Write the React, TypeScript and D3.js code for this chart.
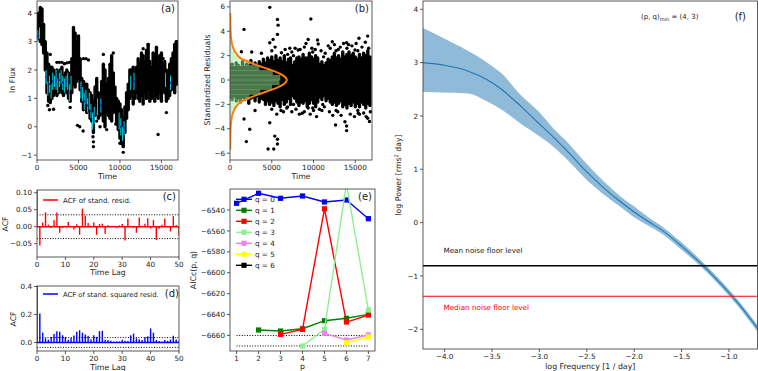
import React from "react";
import * as d3 from "d3";

const FONT = "DejaVu Sans, Verdana, sans-serif";
const AX = "#333";

// ---------------- Panel (a): light curve ----------------
const lcBand: [number, number, number][] = [
  [0, 3.2, 3.9], [200, 3.1, 4.0], [400, 3.0, 4.2], [600, 2.9, 4.15], [800, 2.6, 3.6],
  [1000, 2.0, 3.0], [1200, 1.2, 2.6], [1400, 0.9, 2.2], [1600, 0.85, 2.1], [1800, 1.0, 2.1],
  [2000, 1.1, 2.0], [2200, 1.2, 1.9], [2400, 1.1, 2.0], [2600, 1.2, 1.9], [2800, 1.3, 2.0],
  [3000, 1.2, 2.1], [3200, 1.1, 1.8], [3400, 1.3, 1.9], [3600, 1.2, 2.0], [3800, 1.0, 1.9],
  [4000, 0.9, 1.8], [4200, 1.2, 2.4], [4400, 1.5, 3.5], [4600, 1.4, 3.3], [4800, 1.6, 3.0],
  [5000, 1.7, 3.2], [5200, 1.3, 2.4], [5400, 0.9, 1.7], [5600, 0.6, 1.6], [5800, 0.8, 1.5],
  [6000, 0.5, 1.5], [6200, 0.6, 1.3], [6400, 0.3, 1.2], [6600, 0.2, 1.1], [6800, -0.2, 0.9],
  [7000, 0.4, 1.4], [7200, 0.6, 1.7], [7400, 0.3, 1.2], [7600, 0.4, 1.0], [7800, 0.5, 1.6],
  [8000, 0.2, 2.2], [8200, 0.0, 2.0], [8400, 0.5, 1.5], [8600, 0.4, 1.7], [8800, 0.3, 2.2],
  [9000, 0.2, 2.5], [9200, 0.5, 1.9], [9400, 0.6, 1.4], [9600, 0.1, 1.0], [9800, -0.1, 0.9],
  [10000, -0.4, 0.8], [10200, -0.6, 0.6], [10400, -0.7, 0.3], [10600, -0.2, 0.7], [10800, 0.3, 1.2],
  [11000, 0.6, 1.5], [11200, 1.0, 2.0], [11400, 1.1, 1.9], [11600, 0.8, 2.1], [11800, 1.0, 1.8],
  [12000, 1.2, 2.1], [12200, 1.0, 2.4], [12400, 0.9, 2.2], [12600, 1.1, 2.6], [12800, 0.8, 2.5],
  [13000, 1.2, 2.3], [13200, 1.0, 2.7], [13400, 1.3, 2.9], [13600, 0.9, 2.3], [13800, 1.0, 2.1],
  [14000, 1.3, 2.6], [14200, 0.9, 2.5], [14400, 1.1, 2.8], [14600, 1.0, 2.2], [14800, 1.2, 2.5],
  [15000, 0.9, 2.6], [15200, 1.4, 2.1], [15400, 1.2, 2.3], [15600, 0.9, 2.0], [15800, 1.0, 1.9],
  [16000, 1.1, 2.2], [16200, 1.3, 2.4], [16400, 1.4, 2.6], [16600, 1.2, 2.9], [16800, 1.5, 3.0],
];
const lcOutliers: [number, number][] = [
  [1600, 2.55], [2000, 0.62], [1300, 0.75], [2400, 2.27], [2700, 2.27], [3000, 2.27], [3300, 2.22],
  [3600, 2.25], [3900, 2.27], [4000, 0.68], [4880, 0.05], [5150, 0.0], [5600, 2.4], [5900, 2.4],
  [6200, 2.35], [6800, -0.53], [6800, -0.7], [6750, -0.35], [7600, 0.0], [8400, -0.1],
  [10400, -0.9], [10000, -0.58], [14600, -0.27], [15600, 0.5], [8000, 2.55], [9200, 2.6],
  [11400, 2.0], [12800, 2.75], [13400, 2.9], [14300, 2.55], [15200, 2.4], [16800, 3.0],
  [5560, -0.15], [7200, 0.2], [1500, 0.6], [9500, 0.1],
];
// model (cyan error bars) – visible mostly where the data run low
const lcModel: [number, number, number][] = [
  [100, 3.0, 3.4], [300, 3.1, 3.5], [1100, 1.5, 2.0], [1300, 1.1, 1.6],
  [1500, 1.2, 1.8], [1700, 1.0, 1.5], [1900, 1.3, 1.9], [2100, 1.4, 1.8], [2300, 1.3, 2.0],
  [2500, 1.2, 1.7], [2700, 1.4, 1.9], [2900, 1.5, 2.0], [3100, 1.3, 1.8], [3300, 1.2, 1.7],
  [3500, 1.4, 1.8], [3700, 1.3, 1.9], [3900, 0.9, 1.5], [4100, 1.3, 1.8], [5300, 1.0, 1.6],
  [5500, 0.9, 1.4], [5700, 0.6, 1.2], [5900, 0.8, 1.3], [6100, 0.5, 1.0], [6300, 0.6, 1.2],
  [6500, 0.3, 0.8], [6700, -0.1, 0.5], [6900, 0.1, 0.7], [7300, 0.4, 1.0], [7700, 0.5, 1.0],
  [9900, -0.1, 0.5], [10100, -0.3, 0.3], [10300, -0.5, 0.0], [10500, -0.3, 0.2],
  [11300, 1.3, 1.8], [11700, 1.3, 1.9], [15500, 1.4, 1.9], [16100, 1.3, 1.8],
];
const timeTicks = [0, 5000, 10000, 15000];
const fluxTicks = [-1, 0, 1, 2, 3, 4];

// ---------------- Panel (b): residuals ----------------
const resBand: [number, number, number][] = [
  [0, -1.4, 1.1], [250, -1.6, 1.3], [500, -1.3, 1.0], [750, -1.7, 1.4], [1000, -1.5, 1.2],
  [1250, -1.8, 1.0], [1500, -1.4, 1.5], [1750, -1.6, 1.1], [2000, -1.3, 1.3], [2250, -1.9, 1.2],
  [2500, -1.5, 1.6], [2750, -1.4, 1.1], [3000, -1.7, 1.4], [3250, -1.3, 1.2], [3500, -1.8, 1.5],
  [3750, -1.5, 1.3], [4000, -1.6, 1.7], [4250, -2.0, 1.4], [4500, -1.7, 1.8], [4750, -2.0, 1.6],
  [5000, -1.8, 1.9], [5250, -2.1, 1.5], [5500, -1.7, 2.0], [5750, -1.9, 1.6], [6000, -2.2, 1.8],
  [6250, -1.6, 1.5], [6500, -2.0, 2.0], [6750, -1.8, 1.4], [7000, -1.5, 1.7], [7250, -2.0, 1.8],
  [7500, -1.3, 1.2], [7750, -1.5, 1.5], [8000, -1.8, 1.8], [8250, -2.1, 1.9], [8500, -1.8, 1.7],
  [8750, -1.9, 2.1], [9000, -1.7, 1.8], [9250, -2.2, 1.8], [9500, -1.9, 2.2], [9750, -1.6, 1.9],
  [10000, -1.9, 1.7], [10250, -2.2, 2.0], [10500, -1.8, 1.8], [10750, -1.4, 1.3], [11000, -1.6, 1.5],
  [11250, -1.3, 1.2], [11500, -1.7, 1.4], [11750, -1.5, 1.7], [12000, -1.8, 1.6], [12250, -2.0, 1.9],
  [12500, -1.8, 2.2], [12750, -2.1, 1.8], [13000, -1.9, 2.0], [13250, -1.7, 1.7], [13500, -2.2, 2.3],
  [13750, -2.0, 1.9], [14000, -2.3, 2.1], [14250, -1.9, 2.3], [14500, -2.1, 2.0], [14750, -1.8, 2.2],
  [15000, -2.2, 1.9], [15250, -1.9, 1.7], [15500, -2.2, 2.1], [15750, -1.8, 1.8], [16000, -2.0, 2.2],
  [16250, -2.3, 2.0], [16500, -1.9, 2.4], [16750, -2.1, 1.9],
];
const resOutliers: [number, number][] = [
  [4760, 5.96], [5680, 4.97], [5760, 4.5], [5680, 3.74], [5160, 3.33], [4760, 3.06], [1680, 4.15],
  [9680, 5.0], [9360, 3.33], [10480, 3.28], [12240, 3.14], [13960, 3.06], [15440, 3.42], [16480, 3.6],
  [1360, 2.32], [3760, 2.2], [1680, -3.2], [2360, -4.04], [1960, -5.05], [4760, -3.5], [5360, -4.6],
  [5680, -4.86], [4560, -5.66], [5240, -5.66], [5680, -5.25], [12640, -3.69], [13760, -3.42],
  [13960, -3.77], [13960, -4.15], [16480, -3.14], [10360, -3.0], [8640, -2.73], [9360, -2.3],
  [15360, -2.73], [7160, 2.6], [8160, 2.46], [10560, 2.95], [11760, 2.8], [12960, 2.5], [14960, 2.46],
  [6160, 2.24], [16700, -3.4], [6400, -2.6], [11000, -2.5], [14200, 2.9], [3000, -2.5], [2600, 2.3],
  [5000, 2.4], [5400, 2.7], [6600, 2.5], [7400, 2.3], [7800, 2.6], [8400, 2.5], [8900, 2.7], [9100, 3.0],
  [9800, 2.6], [10200, 2.5], [10900, 2.4], [11400, 2.2], [12000, 2.6], [12500, 2.9], [13200, 2.7],
  [13600, 3.0], [14000, 2.6], [14600, 2.8], [15100, 3.0], [15800, 2.7], [16200, 3.1], [16600, 2.6],
  [5000, -2.4], [5600, -2.8], [6100, -2.5], [6800, -2.3], [7400, -2.6], [7900, -2.4], [8300, -2.8],
  [8900, -2.6], [9600, -2.8], [10000, -2.5], [10700, -2.4], [11300, -2.2], [11900, -2.6], [12300, -2.9],
  [12900, -2.6], [13300, -2.9], [14400, -2.8], [14900, -3.0], [15500, -2.8], [16000, -2.7], [16300, -3.0],
  [16800, -2.6], [7600, 2.0], [7600, -2.0], [11200, 1.9], [11100, -2.0], [6900, 2.1], [6900, -2.2],
  [9900, 2.3], [9900, -2.3], [12700, 2.4], [12700, -2.5], [15300, 2.4], [15300, -2.5],
];
const histBins: [number, number, number][] = [
  [-3.2, -2.8, 150], [-2.8, -2.4, 300], [-2.4, -2.0, 700], [-2.0, -1.6, 1400], [-1.6, -1.2, 2300],
  [-1.2, -0.8, 3600], [-0.8, -0.4, 5000], [-0.4, 0.0, 5900], [0.0, 0.4, 6000], [0.4, 0.8, 5100],
  [0.8, 1.2, 3500], [1.2, 1.6, 2300], [1.6, 2.0, 1300], [2.0, 2.4, 600], [2.4, 2.8, 300], [2.8, 3.2, 120],
];
const pdfCurve: [number, number][] = [
  [5.5, 30], [4.5, 50], [3.5, 120], [3.0, 220], [2.6, 400], [2.2, 700], [1.8, 1250], [1.5, 2200],
  [1.2, 3300], [0.9, 4550], [0.6, 5700], [0.3, 6500], [0, 6800], [-0.3, 6500], [-0.6, 5700],
  [-0.9, 4550], [-1.2, 3300], [-1.5, 2200], [-1.8, 1250], [-2.2, 700], [-2.6, 400], [-3.0, 220],
  [-3.5, 120], [-4.5, 50], [-5.7, 30],
];
const resTicks = [-6, -4, -2, 0, 2, 4, 6];

// ---------------- Panels (c), (d): ACF ----------------
const acfResid = [
  1.0, -0.055, 0.012, 0.042, 0.006, -0.003, 0.019, 0.042, -0.018, -0.004, 0.003, 0.014, -0.002,
  -0.008, 0.007, -0.024, 0.053, 0.033, 0.011, 0.002, 0.012, -0.024, 0.008, 0.009, -0.021, 0.004,
  -0.002, 0.001, -0.003, 0.004, 0.008, -0.041, 0.024, 0.001, -0.003, -0.018, 0.027, 0.003, 0.009,
  0.025, -0.005, 0.02, -0.039, -0.006, 0.006, 0.024, 0.002, -0.014, 0.031, 0.005, -0.027,
];
const acfSq = [
  1.0, 0.207, 0.071, 0.03, 0.02, 0.04, 0.06, 0.08, 0.076, 0.052, 0.04, 0.02, 0.033, 0.05, 0.076,
  0.088, 0.07, 0.057, 0.048, 0.024, 0.052, 0.04, 0.081, 0.083, 0.02, 0.017, 0.012, 0.005, 0.007,
  0.007, 0.02, 0.012, 0.01, 0.052, 0.064, 0.03, 0.024, 0.017, 0.04, 0.045, 0.1, 0.07, 0.017, 0.01,
  0.005, 0.017, 0.012, 0.021, 0.048, 0.021, 0.01,
];
const acfBound = 0.035;
const lagTicks = [0, 10, 20, 30, 40, 50];
const acfTicksC = [-0.05, 0.0, 0.05, 0.1];
const acfTicksD = [0.0, 0.2, 0.4];

// ---------------- Panel (e): AICc ----------------
const pValues = [1, 2, 3, 4, 5, 6, 7];
const aicQ0 = [-6533.6, -6524.0, -6528.8, -6526.6, -6532.3, -6530.4, -6548.3];
const aicQ1 = [NaN, -6654.8, -6655.8, -6653.6, -6645.9, -6643.6, -6639.8];
const aicQ2 = [NaN, NaN, -6659.0, -6654.2, -6538.8, -6647.2, -6640.5];
const aicQ3 = [NaN, NaN, NaN, -6670.1, -6654.2, -6515.0, -6635.7];
const aicQ4 = [NaN, NaN, NaN, NaN, -6658.0, -6664.4, -6659.6];
const aicQ5 = [NaN, NaN, NaN, NaN, NaN, -6667.0, -6661.5];
const aicQ6 = [NaN, NaN, NaN, NaN, NaN, NaN, NaN];
const qLabels = ["q = 0", "q = 1", "q = 2", "q = 3", "q = 4", "q = 5", "q = 6"];
const qColors = ["#0000ff", "#008000", "#ff0000", "#90ee90", "#ee82ee", "#ffff00", "#000000"];
const aicMinLines = [-6660.1, -6670.1];
const aicTicks = [-6660, -6640, -6620, -6600, -6580, -6560, -6540];

// ---------------- Panel (f): PSD ----------------
const logFreq = [-4.228, -4.0, -3.75, -3.55, -3.4, -3.2, -3.0, -2.85, -2.7, -2.5, -2.3, -2.15, -2.0, -1.85, -1.7, -1.5, -1.3, -1.1, -0.9, -0.699];
const logPow = [3.0, 2.95, 2.84, 2.68, 2.5, 2.19, 1.85, 1.6, 1.33, 0.95, 0.62, 0.4, 0.2, 0.02, -0.15, -0.44, -0.76, -1.12, -1.52, -1.98];
const logPowLo = [2.45, 2.44, 2.42, 2.27, 2.12, 1.86, 1.62, 1.42, 1.17, 0.8, 0.5, 0.3, 0.1, -0.06, -0.22, -0.51, -0.82, -1.18, -1.58, -2.05];
const logPowHi = [3.65, 3.45, 3.22, 3.0, 2.8, 2.4, 2.07, 1.76, 1.5, 1.1, 0.74, 0.5, 0.3, 0.1, -0.08, -0.37, -0.7, -1.06, -1.46, -1.92];
const meanNoise = -0.81;
const medianNoise = -1.38;
const freqTicks = [-4.0, -3.5, -3.0, -2.5, -2.0, -1.5, -1.0];
const powTicks = [-2, -1, 0, 1, 2, 3, 4];

const fmtMinus = (s: string) => s.replace(/-/g, "\u2212");

type Box = { x0: number; x1: number; y0: number; y1: number };

const TICK_FS = 7.2;

function Frame({ b, xs, ys, xTicks, yTicks, xFmt, yFmt }: any) {
  return (
    <g>
      <rect x={b.x0} y={b.y0} width={b.x1 - b.x0} height={b.y1 - b.y0} fill="none" stroke={AX} strokeWidth={0.8} />
      {xTicks.map((t: number, i: number) => (
        <g key={"x" + i}>
          <line x1={xs(t)} x2={xs(t)} y1={b.y1} y2={b.y1 + 3} stroke={AX} strokeWidth={0.8} />
          <text x={xs(t)} y={b.y1 + 9.5} fontSize={TICK_FS} textAnchor="middle" fontFamily={FONT} fill="#222">
            {fmtMinus(xFmt(t))}
          </text>
        </g>
      ))}
      {yTicks.map((t: number, i: number) => (
        <g key={"y" + i}>
          <line x1={b.x0 - 3} x2={b.x0} y1={ys(t)} y2={ys(t)} stroke={AX} strokeWidth={0.8} />
          <text x={b.x0 - 5} y={ys(t) + 2.6} fontSize={TICK_FS} textAnchor="end" fontFamily={FONT} fill="#222">
            {fmtMinus(yFmt(t))}
          </text>
        </g>
      ))}
    </g>
  );
}

function YLabel({ x, y, text, size = 7.8 }: any) {
  return (
    <text transform={`translate(${x},${y}) rotate(-90)`} fontSize={size} textAnchor="middle" fontFamily={FONT} fill="#222">
      {text}
    </text>
  );
}

function XLabel({ x, y, text, size = 7.8 }: any) {
  return (
    <text x={x} y={y} fontSize={size} textAnchor="middle" fontFamily={FONT} fill="#222">
      {text}
    </text>
  );
}

export default function App() {
  const A: Box = { x0: 37, x1: 178, y0: 1, y1: 160 };
  const B: Box = { x0: 230, x1: 372, y0: 1, y1: 160 };
  const C: Box = { x0: 37, x1: 179, y0: 190, y1: 257 };
  const D: Box = { x0: 37, x1: 179, y0: 286, y1: 351 };
  const E: Box = { x0: 230, x1: 375, y0: 189, y1: 351 };
  const F: Box = { x0: 423, x1: 757.5, y0: 1, y1: 349 };

  const xa = d3.scaleLinear().domain([0, 17000]).range([A.x0, A.x1]);
  const ya = d3.scaleLinear().domain([-1.17, 4.43]).range([A.y1, A.y0]);
  const xb = d3.scaleLinear().domain([0, 17000]).range([B.x0, B.x1]);
  const yb = d3.scaleLinear().domain([-6.56, 6.48]).range([B.y1, B.y0]);
  const xc = d3.scaleLinear().domain([0, 50]).range([C.x0, C.x1]);
  const yc = d3.scaleLinear().domain([-0.0892, 0.108]).range([C.y1, C.y0]);
  const xd = d3.scaleLinear().domain([0, 50]).range([D.x0, D.x1]);
  const yd = d3.scaleLinear().domain([-0.0607, 0.4036]).range([D.y1, D.y0]);
  const xe = d3.scaleLinear().domain([0.7, 7.3]).range([E.x0, E.x1]);
  const ye = d3.scaleLinear().domain([-6674.9, -6519.9]).range([E.y1, E.y0]);
  const xf = d3.scaleLinear().domain([-4.228, -0.699]).range([F.x0, F.x1]);
  const yf = d3.scaleLinear().domain([-2.37, 4.156]).range([F.y1, F.y0]);

  const intFmt = (t: number) => String(t);
  const f2 = (t: number) => t.toFixed(2);
  const f1 = (t: number) => t.toFixed(1);

  const pdfLine = d3
    .line<[number, number]>()
    .x((d) => xb(d[1]))
    .y((d) => yb(d[0]))
    .curve(d3.curveCatmullRom);

  const aicSeries = [aicQ0, aicQ1, aicQ2, aicQ3, aicQ4, aicQ5, aicQ6];
  const aicLine = d3
    .line<number>()
    .defined((v) => !isNaN(v))
    .x((_, i) => xe(pValues[i]))
    .y((v) => ye(v));

  const psdIdx = logFreq.map((_, i) => i);
  const psdArea = d3
    .area<number>()
    .x((i) => xf(logFreq[i]))
    .y0((i) => yf(logPowLo[i]))
    .y1((i) => yf(logPowHi[i]))
    .curve(d3.curveMonotoneX);
  const psdLine = d3
    .line<number>()
    .x((i) => xf(logFreq[i]))
    .y((i) => yf(logPow[i]))
    .curve(d3.curveMonotoneX);

  const clip = (id: string, b: Box) => (
    <clipPath id={id}>
      <rect x={b.x0} y={b.y0} width={b.x1 - b.x0} height={b.y1 - b.y0} />
    </clipPath>
  );

  return (
    <svg width={758} height={371} style={{ display: "block", position: "absolute", left: 0, top: 0 }} fontFamily={FONT}>
      <defs>
        {clip("ca", A)}
        {clip("cb", B)}
        {clip("cc", C)}
        {clip("cd", D)}
        {clip("ce", E)}
        {clip("cf", F)}
      </defs>
      <rect x={0} y={0} width={758} height={371} fill="#fff" />

      {/* ---------- (a) ---------- */}
      <g clipPath="url(#ca)">
        {lcBand.map((d, i) => (
          <line key={i} x1={xa(d[0])} x2={xa(d[0])} y1={ya(d[1])} y2={ya(d[2])} stroke="#000" strokeWidth={3.4} strokeLinecap="round" />
        ))}
        {lcOutliers.map((d, i) => (
          <circle key={i} cx={xa(d[0])} cy={ya(d[1])} r={1.7} fill="#000" />
        ))}
        {lcModel.map((d, i) => (
          <line key={i} x1={xa(d[0])} x2={xa(d[0])} y1={ya(d[1])} y2={ya(d[2])} stroke="#00eeff" strokeWidth={0.9} />
        ))}
        {lcModel.map((d, i) =>
          i % 2 === 0 ? <circle key={i} cx={xa(d[0])} cy={ya((d[1] + d[2]) / 2)} r={0.9} fill="#1010ee" /> : null
        )}
      </g>
      <Frame b={A} xs={xa} ys={ya} xTicks={timeTicks} yTicks={fluxTicks} xFmt={intFmt} yFmt={intFmt} />
      <XLabel x={(A.x0 + A.x1) / 2} y={179} text="Time" />
      <YLabel x={15} y={80} text="ln Flux" />
      <text x={175} y={12} fontSize={10} textAnchor="end" fill="#222">(a)</text>

      {/* ---------- (b) ---------- */}
      <g clipPath="url(#cb)">
        {resBand.map((d, i) => (
          <line key={i} x1={xb(d[0])} x2={xb(d[0])} y1={yb(d[1])} y2={yb(d[2])} stroke="#000" strokeWidth={3.4} strokeLinecap="round" />
        ))}
        {resOutliers.map((d, i) => (
          <circle key={i} cx={xb(d[0])} cy={yb(d[1])} r={1.7} fill="#000" />
        ))}
        {histBins.map((d, i) => (
          <rect key={i} x={xb(0)} y={yb(d[1])} width={xb(d[2]) - xb(0)} height={yb(d[0]) - yb(d[1])} fill="#90ee90" fillOpacity={0.5} stroke="#ffffff" strokeOpacity={0.25} strokeWidth={0.5} />
        ))}
        <path d={pdfLine(pdfCurve) || ""} fill="none" stroke="#ff7f0e" strokeWidth={2} />
      </g>
      <Frame b={B} xs={xb} ys={yb} xTicks={timeTicks} yTicks={resTicks} xFmt={intFmt} yFmt={intFmt} />
      <XLabel x={(B.x0 + B.x1) / 2} y={179} text="Time" />
      <YLabel x={210} y={80} text="Standardized Residuals" />
      <text x={369} y={12} fontSize={10} textAnchor="end" fill="#222">(b)</text>

      {/* ---------- (c) ---------- */}
      <g clipPath="url(#cc)">
        <line x1={xc(0)} x2={xc(50)} y1={yc(acfBound)} y2={yc(acfBound)} stroke="#000" strokeWidth={1} strokeDasharray="1,1.6" />
        <line x1={xc(0)} x2={xc(50)} y1={yc(-acfBound)} y2={yc(-acfBound)} stroke="#000" strokeWidth={1} strokeDasharray="1,1.6" />
        {acfResid.map((v, i) => (
          <line key={i} x1={xc(i)} x2={xc(i)} y1={yc(0)} y2={yc(v)} stroke="#ff0000" strokeWidth={1.4} />
        ))}
        <line x1={xc(0)} x2={xc(50)} y1={yc(0)} y2={yc(0)} stroke="#ff0000" strokeWidth={1.5} />
      </g>
      <Frame b={C} xs={xc} ys={yc} xTicks={lagTicks} yTicks={acfTicksC} xFmt={intFmt} yFmt={f2} />
      <line x1={43} x2={58} y1={200} y2={200} stroke="#ff0000" strokeWidth={1.5} />
      <text x={63} y={202.5} fontSize={7} fill="#222">ACF of stand. resid.</text>
      <text x={176} y={200} fontSize={10} textAnchor="end" fill="#222">(c)</text>
      <XLabel x={(C.x0 + C.x1) / 2} y={275} text="Time Lag" />
      <YLabel x={8} y={224} text="ACF" />

      {/* ---------- (d) ---------- */}
      <g clipPath="url(#cd)">
        <line x1={xd(0)} x2={xd(50)} y1={yd(acfBound)} y2={yd(acfBound)} stroke="#000" strokeWidth={1} strokeDasharray="1,1.6" />
        <line x1={xd(0)} x2={xd(50)} y1={yd(-acfBound)} y2={yd(-acfBound)} stroke="#000" strokeWidth={1} strokeDasharray="1,1.6" />
        {acfSq.map((v, i) => (
          <line key={i} x1={xd(i)} x2={xd(i)} y1={yd(0)} y2={yd(v)} stroke="#0000ff" strokeWidth={1.4} />
        ))}
        <line x1={xd(0)} x2={xd(50)} y1={yd(0)} y2={yd(0)} stroke="#0000ff" strokeWidth={1.5} />
      </g>
      <Frame b={D} xs={xd} ys={yd} xTicks={lagTicks} yTicks={acfTicksD} xFmt={intFmt} yFmt={f1} />
      <line x1={43} x2={58} y1={294} y2={294} stroke="#0000ff" strokeWidth={1.5} />
      <text x={63} y={296.5} fontSize={6.8} fill="#222">ACF of stand. squared resid.</text>
      <text x={179} y={297} fontSize={10} textAnchor="end" fill="#222">(d)</text>
      <XLabel x={(D.x0 + D.x1) / 2} y={370} text="Time Lag" />
      <YLabel x={16} y={319} text="ACF" />

      {/* ---------- (e) ---------- */}
      <g clipPath="url(#ce)">
        {aicMinLines.map((v, i) => (
          <line key={i} x1={xe(1)} x2={xe(7)} y1={ye(v)} y2={ye(v)} stroke="#000" strokeWidth={1} strokeDasharray="1,1.6" />
        ))}
        {aicSeries.map((s, k) => (
          <g key={k}>
            <path d={aicLine(s) || ""} fill="none" stroke={qColors[k]} strokeWidth={1.4} />
            {s.map((v, i) =>
              isNaN(v) ? null : (
                <rect key={i} x={xe(pValues[i]) - 2.6} y={ye(v) - 2.6} width={5.2} height={5.2} fill={qColors[k]} />
              )
            )}
          </g>
        ))}
      </g>
      {qLabels.map((l, k) => {
        const yy = 199.3 + k * 11;
        return (
          <g key={k}>
            <line x1={236} x2={252} y1={yy} y2={yy} stroke={qColors[k]} strokeWidth={1.4} />
            <rect x={244 - 2.6} y={yy - 2.6} width={5.2} height={5.2} fill={qColors[k]} />
            <text x={255} y={yy + 2.6} fontSize={7.2} fill="#222">{l}</text>
          </g>
        );
      })}
      <Frame b={E} xs={xe} ys={ye} xTicks={pValues} yTicks={aicTicks} xFmt={intFmt} yFmt={intFmt} />
      <text x={372} y={200} fontSize={10} textAnchor="end" fill="#222">(e)</text>
      <XLabel x={(E.x0 + E.x1) / 2} y={369} text="p" />
      <YLabel x={196} y={270} text="AICc(p, q)" />

      {/* ---------- (f) ---------- */}
      <g clipPath="url(#cf)">
        <path d={psdArea(psdIdx) || ""} fill="#1f77b4" fillOpacity={0.5} stroke="none" />
        <path d={psdLine(psdIdx) || ""} fill="none" stroke="#1f77b4" strokeWidth={1.1} />
        <line x1={F.x0} x2={F.x1} y1={yf(meanNoise)} y2={yf(meanNoise)} stroke="#000" strokeWidth={1.5} />
        <line x1={F.x0} x2={F.x1} y1={yf(medianNoise)} y2={yf(medianNoise)} stroke="#ff0000" strokeWidth={1.1} />
      </g>
      <Frame b={F} xs={xf} ys={yf} xTicks={freqTicks} yTicks={powTicks} xFmt={f1} yFmt={intFmt} />
      <text x={443.5} y={252.5} fontSize={7.2} fill="#222">Mean noise floor level</text>
      <text x={443.5} y={309.5} fontSize={7.2} fill="#ff0000">Median noise floor level</text>
      <text x={641} y={19} fontSize={7} fill="#222">
        (p, q)<tspan fontSize={5} dy={1.5}>min</tspan><tspan dy={-1.5}> = (4, 3)</tspan>
      </text>
      <text x={746} y={20} fontSize={10} textAnchor="end" fill="#222">(f)</text>
      <XLabel x={(F.x0 + F.x1) / 2} y={369} text="log Frequency [1 / day]" />
      <YLabel x={401} y={175} text={<>log Power [rms<tspan fontSize={5} dy={-3}>2</tspan><tspan dy={3}> day]</tspan></>} />
    </svg>
  );
}
